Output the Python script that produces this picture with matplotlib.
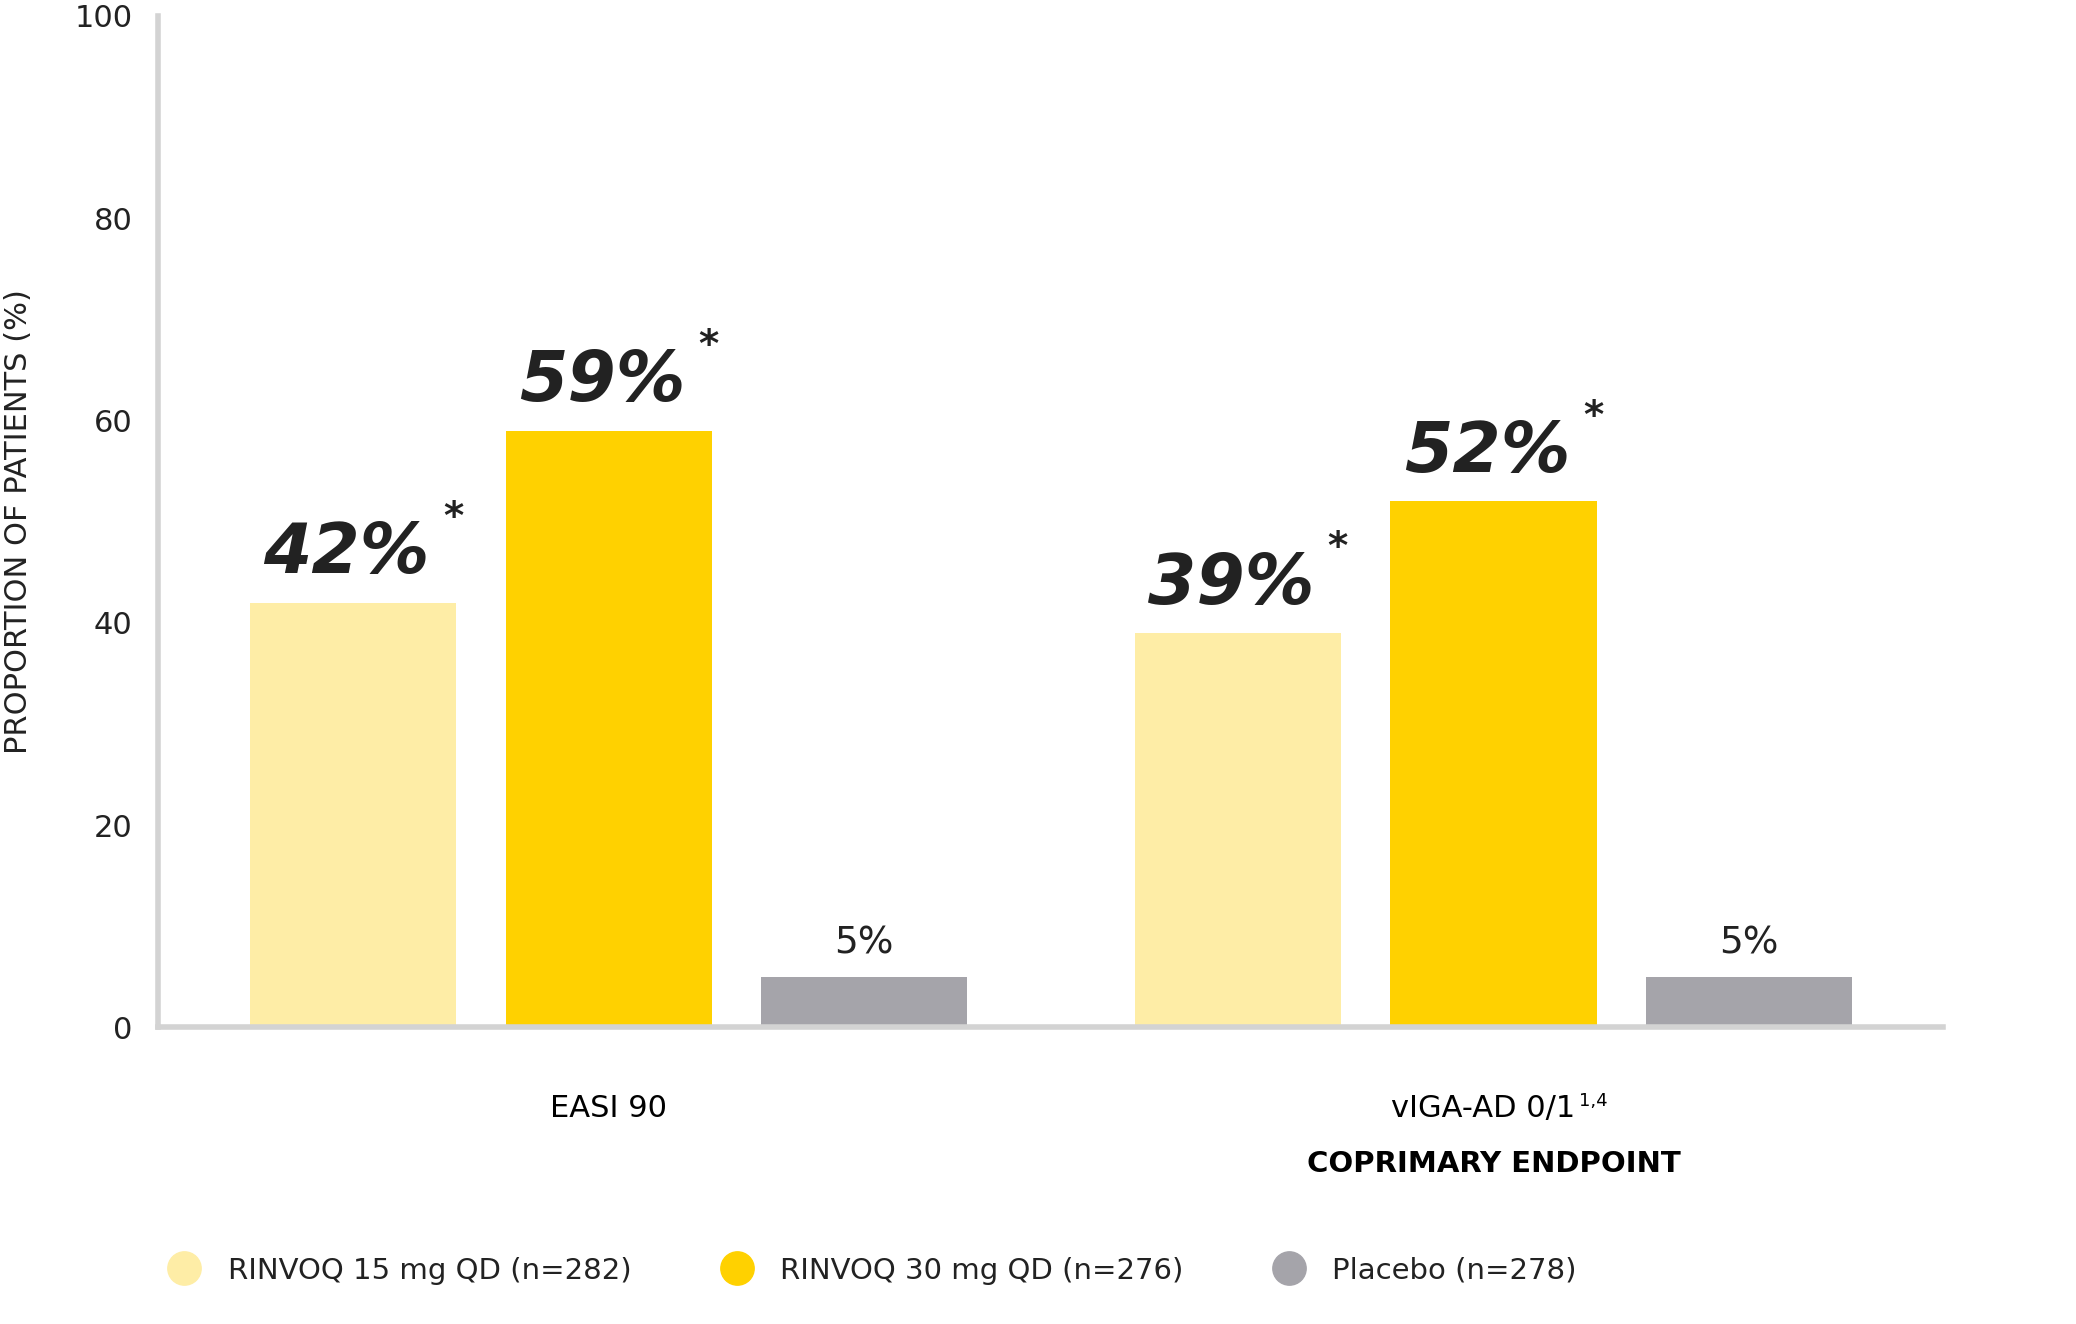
import matplotlib.pyplot as plt
from matplotlib.lines import Line2D

groups = ['EASI 90', 'vIGA-AD 0/1']
series = ['RINVOQ 15 mg QD (n=282)', 'RINVOQ 30 mg QD (n=276)', 'Placebo (n=278)']
values = [[42, 39], [59, 52], [5, 5]]
labels = [['42%', '39%'], ['59%', '52%'], ['5%', '5%']]
colors = ['#FEEDA6', '#FFD100', '#A5A4AA']

fig = plt.figure(figsize=(20.76, 13.24), dpi=100)
ax = fig.add_axes([0.076, 0.224, 0.86, 0.764])

group_centers = [457, 1122]
offsets = [-192, 0, 192]
for i, s in enumerate(series):
    xs = [c + offsets[i] for c in group_centers]
    ax.bar(xs, values[i], width=155, color=colors[i], label=s, zorder=2)
    for x, v, t in zip(xs, values[i], labels[i]):
        if i < 2:
            ax.text(x - 5, v + 1.5, t, ha='center', va='bottom', fontsize=50,
                    fontweight='bold', style='italic', color='#222222')
            ax.text(x + 75, v + 6.5, '*', ha='center', va='bottom', fontsize=28,
                    fontweight='bold', color='#222222')
        else:
            ax.text(x, v + 1.5, t, ha='center', va='bottom', fontsize=27, color='#222222')

ax.set_xlim(118, 1460)
ax.set_ylim(0, 100)
ax.set_yticks([0, 20, 40, 60, 80, 100])
ax.tick_params(axis='y', length=0, labelsize=22, pad=18, labelcolor='#222222')
ax.set_xticks([])
for sp in ['top', 'right']:
    ax.spines[sp].set_visible(False)
for sp in ['left', 'bottom']:
    ax.spines[sp].set_color('#D3D3D3')
    ax.spines[sp].set_linewidth(4)
ax.set_ylabel('PROPORTION OF PATIENTS (%)', fontsize=22, labelpad=30, color='#222222')

ax.text(group_centers[0], -8, groups[0], ha='center', va='center', fontsize=22, clip_on=False)
ax.text(group_centers[1] - 8, -8, groups[1], ha='center', va='center', fontsize=22, clip_on=False)
ax.text(group_centers[1] + 75, -7.3, '1,4', ha='center', va='center', fontsize=13, clip_on=False)
ax.text(group_centers[1], -13.5, 'COPRIMARY ENDPOINT', ha='center', va='center', fontsize=21,
        fontweight='bold', clip_on=False)

# round legend markers
handles = [Line2D([], [], marker='o', linestyle='', markersize=24, color=c) for c in colors]
fig.legend(handles, series, loc='lower left', bbox_to_anchor=(0.062, 0.01), ncol=3, frameon=False,
           fontsize=21, handletextpad=0.5, columnspacing=2.6, labelcolor='#222222')

fig.savefig('out.png', dpi=100)
